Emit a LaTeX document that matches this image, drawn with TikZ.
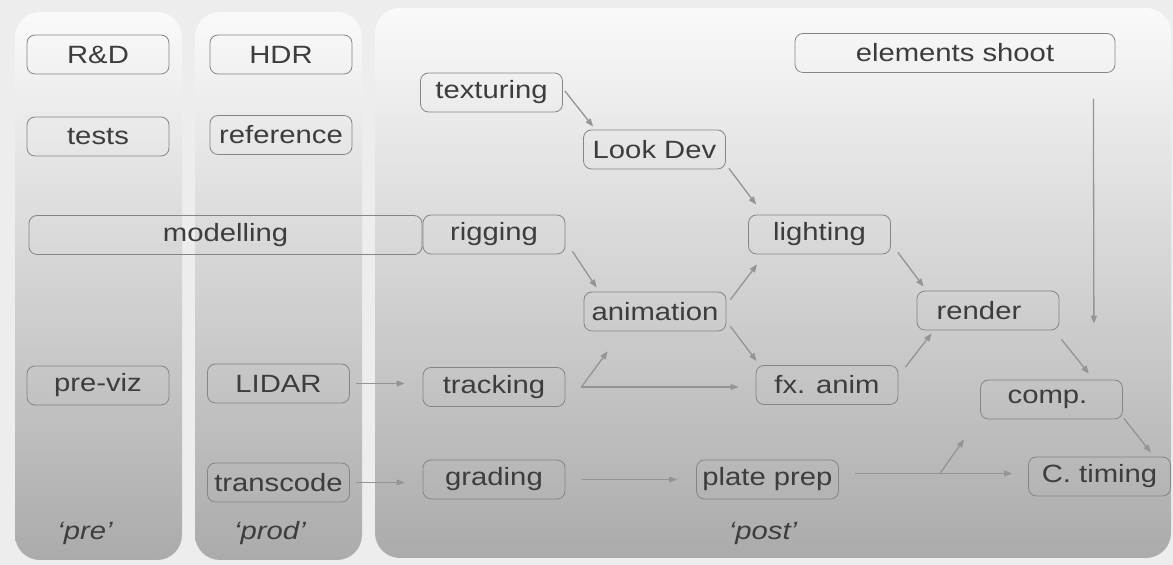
\documentclass[tikz,border=0pt]{standalone}
\usepackage{fontspec}
\setmainfont{Liberation Sans}[FakeStretch=1.17]
\usetikzlibrary{arrows.meta,calc}

\begin{document}
\begin{tikzpicture}[
        x=0.5pt, y=-0.5pt,
        font=\fontsize{12.5}{14}\selectfont,
        panel/.style={rounded corners=12.5pt, top color=black!2, middle color=black!14, bottom color=black!33},
        task/.style={draw=black!48, rounded corners=4pt, text=black!76, minimum width=71pt, minimum height=19.5pt, inner sep=0pt},
        flow/.style={draw=black!42, line width=0.65pt, -{Triangle[length=4pt,width=3pt]}},
        stage/.style={text=black!76, font=\fontsize{12.5}{14}\selectfont\itshape}
    ]
        % page and panels
        \fill[black!7] (0,0) rectangle (1173,565);
        \useasboundingbox (0,0) rectangle (1173,565);
        \shade[panel] (15,12) rectangle (182,560);
        \shade[panel] (195,12) rectangle (362,560);
        \shade[panel] (375,8) rectangle (1171,558);

        \node[stage] (pre) at (85,533) {‘pre’};
        \node[stage] (prod) at (270,533) {‘prod’};
        \node[stage] (post) at (763,533) {‘post’};

        % tasks
        \node[task] (rnd) at (98,54.5) {R\&D};
        \node[task] (tests) at (98,136.5) {tests};
        \node[task] (previz) at (98,385.5) {pre-viz};
        \node[task] (hdr) at (281,54.5) {HDR};
        \node[task] (ref) at (281,135) {reference};
        \node[task] (lidar) at (278.5,383.5) {LIDAR};
        \node[task] (transcode) at (278.5,482.5) {transcode};
        \node[task, minimum width=196.5pt] (model) at (225.5,235) {modelling};
        \node[task] (tex) at (491.5,92.5) {texturing};
        \node[task] (lookdev) at (654.5,149.5) {Look Dev};
        \node[task] (rig) at (494,234.5) {rigging};
        \node[task] (light) at (819.5,234.5) {lighting};
        \node[task, minimum width=160pt] (shoot) at (955,53) {elements shoot};
        \node[task] (anim) at (655,311.5) {animation};
        \node[task] (track) at (494,387) {tracking};
        \node[task] (fx) at (827,385) {fx. anim};
        \node[task] (grade) at (494,479.5) {grading};
        \node[task] (plate) at (767.5,479.5) {plate prep};
        \node[task, text width=60pt, align=center] (render) at (988,310.5) {render\hspace*{9pt}};
        \node[task] (comp) at (1051.5,399.5) {comp.\hspace*{4pt}};
        \node[task] (ctime) at (1099.5,476.5) {C. timing};

        % forks
        \coordinate (tfork) at ($(track.east)+(16,0)$);
        \coordinate (pfork) at ($(plate.east)+(101,-6)$);

        % flows
        \draw[flow] ($(tex.east)+(2,-1.5)$) -- ($(lookdev.north west)+(10,-3)$);
        \draw[flow] ($(lookdev.south east)+(3,-1)$) -- ($(light.north west)+(8,-10)$);
        \draw[flow] ($(rig.south east)+(7,-3)$) -- ($(anim.north west)+(13,-4)$);
        \draw[flow] ($(anim.north east)+(4,8)$) -- ($(light.south west)+(9,10)$);
        \draw[flow] ($(anim.south east)+(4,-5)$) -- ($(fx.north west)+(1,-4)$);
        \draw[flow, shorten <=3pt, shorten >=9pt] (lidar.east) -- (lidar.east -| track.west);
        \draw[flow, shorten <=3pt, shorten >=9pt] (transcode.east) -- (transcode.east -| grade.west);
        \draw[flow] (tfork) -- ($(anim.south west)+(24,20)$);
        \draw[flow, shorten >=8.5pt] (tfork) -- (tfork -| fx.west);
        \draw[flow, shorten <=8.5pt, shorten >=9.5pt] (grade.east) -- (plate.west);
        \draw[flow, shorten >=8pt] ($(plate.east)+(16,-6)$) -- (pfork -| ctime.west);
        \draw[flow] (pfork) -- ($(comp.south west)+(-16,20)$);
        \draw[flow] ($(light.south east)+(7,-2)$) -- ($(render.north west)+(7,-4)$);
        \draw[flow] ($(fx.north east)+(7,2)$) -- ($(render.south west)+(15,3)$);
        \draw[flow] ($(render.south east)+(2,9)$) -- ($(comp.north east)+(-34,-6)$);
        \draw[flow] ($(shoot.south east)+(-22,26)$) -- ($(comp.north east)+(-29,-56)$);
        \draw[flow] ($(comp.south east)+(1,-1)$) -- ($(ctime.north east)+(-20,-4)$);
    \end{tikzpicture}
\end{document}
